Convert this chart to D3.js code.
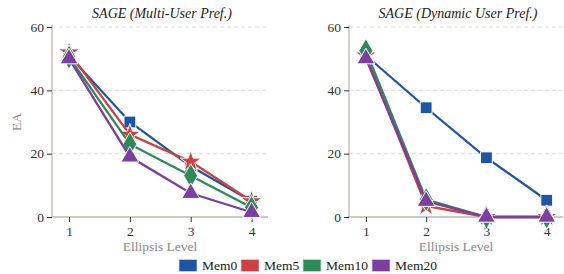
<!DOCTYPE html>
<html><head><meta charset="utf-8"><script src="https://cdn.jsdelivr.net/npm/d3@7"></script></head>
<body style="margin:0">
<svg id="c" width="564" height="274"></svg>
<script>
const levels = [1, 2, 3, 4];
const seriesNames = ["Mem0", "Mem5", "Mem10", "Mem20"];
const colors = ["#1f56a4", "#cf4040", "#2e8a57", "#7b3f9f"];
const symbols = [d3.symbolSquare, d3.symbolStar, d3.symbolDiamond, d3.symbolTriangle];
const multiMem0 = [51, 30, 16, 5];
const multiMem5 = [52, 26, 17.5, 5];
const multiMem10 = [50.5, 23, 13, 3];
const multiMem20 = [50, 19, 7.5, 1.5];
const dynMem0 = [51, 34.5, 18.7, 5.3];
const dynMem5 = [51, 3.5, 0, 0];
const dynMem10 = [52.5, 5.5, 0, 0];
const dynMem20 = [50, 5, 0, 0];
const yTicks = [0, 20, 40, 60];
const titles = ["SAGE (Multi-User Pref.)", "SAGE (Dynamic User Pref.)"];
const panels = [
  {title: titles[0], data: [multiMem0, multiMem5, multiMem10, multiMem20], x0: 52, x1: 268, showY: true},
  {title: titles[1], data: [dynMem0, dynMem5, dynMem10, dynMem20], x0: 349, x1: 563, showY: false}
];
const svg = d3.select("#c");
const yTop = 27, yBot = 217;
const y = d3.scaleLinear().domain([0, 60]).range([yBot, yTop]);
const symSize = [140, 140, 170, 140];
function serif(sel, size) {
  return sel.style("font-family", '"Times New Roman"').style("font-size", size + "px");
}

panels.forEach(p => {
  const x = d3.scaleLinear().domain([0.72, 4.27]).range([p.x0, p.x1]);
  const g = svg.append("g");
  g.selectAll(".grid").data(yTicks.filter(t => t > 0)).join("line")
    .attr("x1", p.x0).attr("x2", p.x1).attr("y1", d => y(d)).attr("y2", d => y(d))
    .attr("stroke", "#dddddd").attr("stroke-dasharray", "4,3").attr("stroke-width", 1);
  const ya = g.append("g").attr("transform", `translate(${p.x0},0)`)
    .call(d3.axisLeft(y).tickValues(yTicks).tickSize(5).tickPadding(3));
  const xa = g.append("g").attr("transform", `translate(0,${yBot})`)
    .call(d3.axisBottom(x).tickValues(levels).tickSize(5).tickPadding(4).tickFormat(d3.format("d")));
  [ya, xa].forEach(a => {
    a.attr("font-family", null).attr("font-size", null);
    a.select(".domain").attr("stroke", "#bdb9b0").attr("stroke-width", 1.3)
     .attr("d", a === ya ? `M0,${yBot}V${yTop - 2}` : `M${p.x0},0H${p.x1}`);
    a.selectAll(".tick line").attr("stroke", "#333");
    serif(a.selectAll("text"), 13.5).attr("fill", "#333");
  });
  serif(g.append("text"), 14).attr("x", (p.x0 + p.x1) / 2 + 2).attr("y", 18).attr("text-anchor", "middle")
    .style("font-style", "italic").attr("fill", "#222").text(p.title);
  serif(g.append("text"), 13.5).attr("x", (p.x0 + p.x1) / 2).attr("y", 251).attr("text-anchor", "middle")
    .attr("fill", "#8a8a8a").text("Ellipsis Level");
  if (p.showY) {
    serif(g.append("text"), 13.5).attr("transform", `translate(21,${(yTop + yBot) / 2}) rotate(-90)`)
      .attr("text-anchor", "middle").attr("fill", "#8a8a8a").text("EA");
  }
  const line = d3.line().x((d, i) => x(levels[i])).y(d => y(d));
  p.data.forEach((vals, si) => {
    g.append("path").attr("d", line(vals)).attr("fill", "none")
      .attr("stroke", colors[si]).attr("stroke-width", 2.3);
    g.selectAll(null).data(vals).join("path")
      .attr("transform", (d, i) => `translate(${x(levels[i])},${y(d)})`)
      .attr("d", d3.symbol().type(symbols[si]).size(symSize[si]))
      .attr("fill", colors[si]).attr("stroke", "#fff").attr("stroke-width", 1);
  });
});

const legX = [179, 241, 303, 372];
seriesNames.forEach((n, i) => {
  svg.append("rect").attr("x", legX[i]).attr("y", 259.5).attr("width", 18).attr("height", 12)
    .attr("fill", colors[i]).attr("stroke", "#c8d4e8").attr("stroke-width", 0.8);
  serif(svg.append("text"), 13.5).attr("x", legX[i] + 23).attr("y", 270).attr("fill", "#222").text(n);
});
</script></body></html>
